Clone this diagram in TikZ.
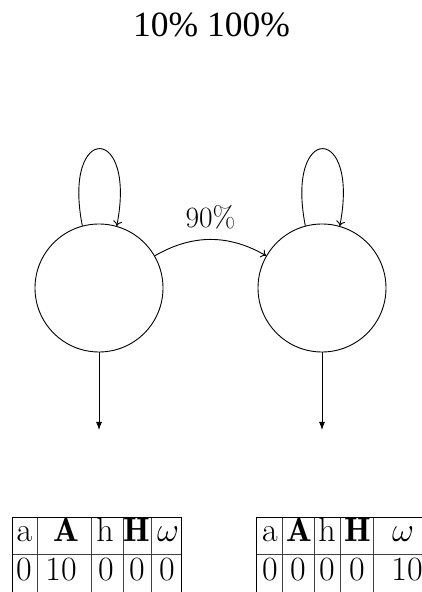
\RequirePackage{fix-cm}
\documentclass[tikz,border=0pt]{standalone}
\usepackage{fontspec}
\newfontfamily\timesf{Liberation Serif}
\usetikzlibrary{arrows.meta}
\begin{document}
\begin{tikzpicture}[x=1pt,y=1pt,
  state/.style={circle,draw,line width=0.9pt,minimum size=128pt,inner sep=0pt},
  conn/.style={line width=0.9pt},
  looptip/.style={-{To[length=5pt,width=9pt]}},
  downtip/.style={-{Latex[length=8pt,width=6pt]}},
  cell/.style={anchor=base,inner sep=0pt,font=\fontsize{34}{40}\selectfont},
  gridline/.style={line width=0.9pt,draw=black!75},
  outerline/.style={line width=0.9pt,draw=black}]
\useasboundingbox (0,0) rectangle (422,592);
\clip (0,0) rectangle (422,592);

% title
\node[anchor=base,inner sep=0pt,font=\timesf\fontsize{35.5}{42}\selectfont] (title) at (211.5,555) {10\% 100\%};

% states
\node[state] (c1) at (99,304) {};
\node[state] (c2) at (322,304) {};

% self loops
\draw[conn,looptip] (c1.105) .. controls (62,469) and (137,469) .. (c1.74);
\draw[conn,looptip] (c2.105) .. controls (285,469) and (360,469) .. (c2.74);

% transition
\draw[conn,looptip] (c1.30) to[out=30,in=150] (c2.150);
\node[anchor=base,inner sep=0pt,font=\fontsize{29.5}{35}\selectfont] (lbl) at (210.5,364) {90\%};

% outputs
\coordinate (o1) at (99,162);
\coordinate (o2) at (322,162);
\draw[conn,downtip] (c1.south) -- (o1);
\draw[conn,downtip] (c2.south) -- (o2);

% left table
\draw[gridline] (37.7,0) -- (37.7,75) (91.7,0) -- (91.7,75) (123,0) -- (123,75) (151.7,0) -- (151.7,75);
\draw[gridline] (12.7,37.5) -- (181.7,37.5);
\draw[outerline] (12.7,0) -- (12.7,75) -- (181.7,75) -- (181.7,0);
\node[cell] (la1) at (24.5,50.3) {a};
\node[cell] (lA1) at (66.5,50.3) {$\mathbf{A}$};
\node[cell] (lh1) at (105,50.3) {h};
\node[cell] (lH1) at (136.5,50.3) {$\mathbf{H}$};
\node[cell] (lw1) at (168,50.3) {$\omega$};
\node[cell] (la2) at (24,11) {0};
\node[cell] (lA2) at (61,11) {10};
\node[cell] (lh2) at (106,11) {0};
\node[cell] (lH2) at (137,11) {0};
\node[cell] (lw2) at (167,11) {0};

% right table
\draw[gridline] (282.7,0) -- (282.7,75) (314,0) -- (314,75) (340,0) -- (340,75) (373.3,0) -- (373.3,75);
\draw[gridline] (256.7,37.5) -- (440,37.5);
\draw[outerline] (256.7,0) -- (256.7,75) -- (440,75);
\node[cell] (ra1) at (270,50.3) {a};
\node[cell] (rA1) at (299,50.3) {$\mathbf{A}$};
\node[cell] (rh1) at (327,50.3) {h};
\node[cell] (rH1) at (357.5,50.3) {$\mathbf{H}$};
\node[cell] (rw1) at (403,50.3) {$\omega$};
\node[cell] (ra2) at (270,11) {0};
\node[cell] (rA2) at (298,11) {0};
\node[cell] (rh2) at (327,11) {0};
\node[cell] (rH2) at (357,11) {0};
\node[cell] (rw2) at (407,11) {10};
\end{tikzpicture}
\end{document}
